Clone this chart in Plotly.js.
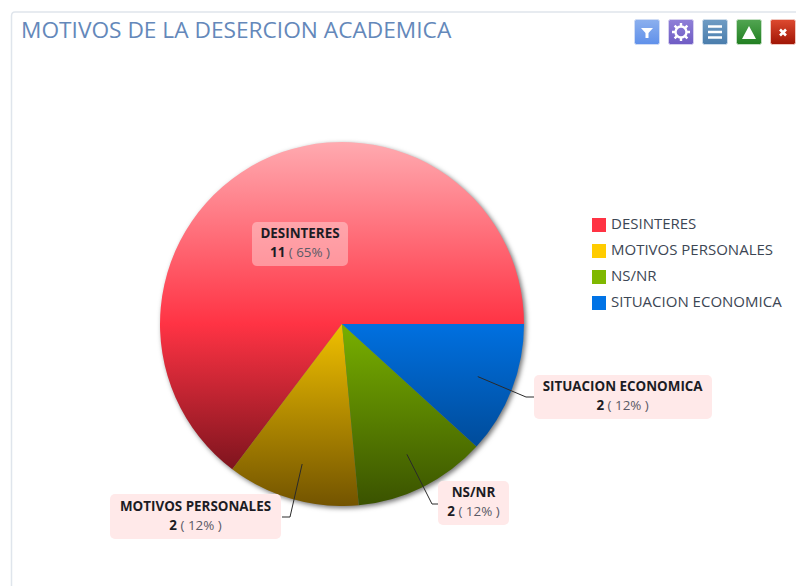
<!DOCTYPE html>
<html>
<head>
<meta charset="utf-8">
<script src="https://cdn.plot.ly/plotly-3.0.1.min.js"></script>
<style>
html,body{margin:0;padding:0;background:#fff;overflow:hidden}
#c{width:796px;height:586px}
.pielayer{filter:drop-shadow(2px 2px 2.5px rgba(0,0,0,.55))}
</style>
</head>
<body>
<div id="c"></div>
<script>
const categories = ["DESINTERES", "MOTIVOS PERSONALES", "NS/NR", "SITUACION ECONOMICA"];
const counts = [11, 2, 2, 2];
const colors = ["#ff3344", "#ffcc00", "#7fb800", "#0073e6"];
const gradients = [
  ["#ffaab0", "#ff3344", "#5e0c14"],
  ["#ffcc00", "#f0c000", "#735400"],
  ["#7fb800", "#78b000", "#3a5200"],
  ["#0073e6", "#0070e0", "#003a78"]
];
const titleText = "MOTIVOS DE LA DESERCION ACADEMICA";

const W = 796, H = 586;
const cx = 342, cy = 324, R = 182;
const px = x => x / W, py = y => 1 - y / H;

const total = counts.reduce((a, b) => a + b, 0);
const startAngle = 90;

// Label boxes [left, top, right, bottom]
const boxes = [[252, 222, 348, 266], [110, 494, 281, 539], [438, 481, 509, 525], [534, 375, 712, 419]];
const bgs = ["rgba(255,225,225,0.45)", "#ffe9e9", "#ffe9e9", "#ffe9e9"];
// Elbow endpoints of the leader lines (null = no leader)
const elbows = [null, [[290, 517], [282, 517]], [[432, 504], [438, 504]], [[526, 397], [534, 397]]];

const annotations = [], shapes = [];
let acc = 0;
categories.forEach((name, i) => {
  const frac = counts[i] / total;
  const mid = (startAngle - (acc + frac / 2) * 360) * Math.PI / 180;
  acc += frac;
  const b = boxes[i];
  annotations.push({
    xref: "paper", yref: "paper",
    x: px((b[0] + b[2]) / 2), y: py((b[1] + b[3]) / 2),
    xanchor: "center", yanchor: "middle",
    width: b[2] - b[0], height: b[3] - b[1],
    showarrow: false, align: "center", valign: "middle",
    bgcolor: bgs[i], borderpad: 0, borderwidth: 0,
    font: {family: "Open Sans, Noto Sans, sans-serif", size: 13.4, color: "#1c1c24"},
    text: "<b>" + name + "</b><br><b>" + counts[i] + "</b> <span style='color:#5a5a66'>( " + Math.round(frac * 100) + "% )</span>"
  });
  if (elbows[i]) {
    const sx = cx + 0.8 * R * Math.sin(mid), sy = cy - 0.8 * R * Math.cos(mid);
    const e = elbows[i];
    shapes.push({
      type: "path", xref: "paper", yref: "paper", layer: "above",
      path: "M" + px(sx) + "," + py(sy) + " L" + px(e[0][0]) + "," + py(e[0][1]) + " L" + px(e[1][0]) + "," + py(e[1][1]),
      line: {color: "#2a2a2a", width: 1}
    });
  }
});

// Panel frame: top and left rules
shapes.push({type: "path", xref: "paper", yref: "paper", layer: "below",
  path: "M" + px(11.5) + "," + py(586) + " L" + px(11.5) + "," + py(16) + " Q" + px(11.5) + "," + py(12) + " " + px(15) + "," + py(12) + " L" + px(796) + "," + py(12),
  line: {color: "#dfe5ec", width: 1.5}});

function icon(top, bottom, border, glyph) {
  const id = "g";
  const svg = "<svg xmlns='http://www.w3.org/2000/svg' width='26' height='26' viewBox='0 0 26 26'><defs><linearGradient id='" + id + "' x1='0' y1='0' x2='0' y2='1'><stop offset='0' stop-color='" + top + "'/><stop offset='1' stop-color='" + bottom + "'/></linearGradient></defs><rect x='0.5' y='0.5' width='25' height='25' rx='2' fill='url(#" + id + ")' stroke='" + border + "'/>" + glyph + "</svg>";
  return "data:image/svg+xml;charset=utf-8," + encodeURIComponent(svg);
}
const icons = [
  icon("#8cb0ee", "#5f90ea", "#cfdcf5", "<path d='M7 9H19L14.5 14V19H11.5V14Z' fill='#fff'/>"),
  icon("#8f80d8", "#6f5cc4", "#d6d0ef", "<circle cx='13' cy='13' r='5.5' fill='none' stroke='#fff' stroke-width='2.4'/><path d='M13 4V8M13 18V22M4 13H8M18 13H22M6.6 6.6L9.4 9.4M16.6 16.6L19.4 19.4M19.4 6.6L16.6 9.4M9.4 16.6L6.6 19.4' stroke='#fff' stroke-width='2.4'/>"),
  icon("#6f9cc4", "#4a7dac", "#cddcea", "<path d='M6 7.5H20M6 13H20M6 18.5H20' stroke='#fff' stroke-width='2.4'/>"),
  icon("#52a552", "#217f21", "#c5e0c5", "<path d='M13 7L20 20H6Z' fill='#fff'/>"),
  icon("#de4a30", "#a01505", "#f0c8c0", "<path d='M10 10.5L16 16.5M16 10.5L10 16.5' stroke='#fff' stroke-width='2.6'/>")
];
const iconLefts = [634, 668, 702, 736, 770];
const images = icons.map((s, i) => ({
  source: s, xref: "paper", yref: "paper",
  x: px(iconLefts[i]), y: py(19), sizex: 26 / W, sizey: 26 / H,
  xanchor: "left", yanchor: "top", layer: "above", sizing: "stretch"
}));

const data = [{
  type: "pie",
  labels: categories,
  values: counts,
  sort: false,
  direction: "counterclockwise",
  rotation: startAngle - counts[0] / total * 360 + 360,
  textinfo: "none",
  hoverinfo: "label+value+percent",
  marker: {colors: colors, line: {width: 0}},
  domain: {x: [px(cx - R), px(cx + R)], y: [py(cy + R), py(cy - R)]}
}];

const layout = {
  width: W, height: H,
  margin: {l: 0, r: 0, t: 0, b: 0},
  paper_bgcolor: "#fff",
  title: {
    text: titleText, xref: "paper", yref: "paper",
    x: px(21), xanchor: "left", y: py(30), yanchor: "middle",
    font: {family: "Open Sans, Noto Sans, sans-serif", size: 22.7, color: "#6488ba"}
  },
  showlegend: true,
  legend: {
    x: px(579), y: py(210), xanchor: "left", yanchor: "top",
    bgcolor: "rgba(0,0,0,0)",
    font: {family: "Open Sans, Noto Sans, sans-serif", size: 15, color: "#3c4654"}
  },
  annotations, shapes, images
};

Plotly.newPlot("c", data, layout, {displayModeBar: false, responsive: false}).then(gd => {
  const svg = gd.querySelector("svg.main-svg");
  const NS = "http://www.w3.org/2000/svg";
  const defs = svg.querySelector("defs") || svg.insertBefore(document.createElementNS(NS, "defs"), svg.firstChild);
  gradients.forEach((g, i) => {
    const lg = document.createElementNS(NS, "linearGradient");
    lg.setAttribute("id", "sliceGrad" + i);
    lg.setAttribute("gradientUnits", "userSpaceOnUse");
    lg.setAttribute("x1", 0); lg.setAttribute("x2", 0);
    lg.setAttribute("y1", cy - R); lg.setAttribute("y2", cy + R);
    g.forEach((c, k) => {
      const s = document.createElementNS(NS, "stop");
      s.setAttribute("offset", k / 2);
      s.setAttribute("stop-color", c);
      lg.appendChild(s);
    });
    defs.appendChild(lg);
  });
  gd.querySelectorAll(".pielayer .slice path.surface").forEach((p, i) => {
    p.style.fill = "url(#sliceGrad" + i + ")";
  });
  gd.querySelectorAll(".annotation rect.bg").forEach(r => {
    r.setAttribute("rx", 5); r.setAttribute("ry", 5);
  });
  gd.querySelectorAll(".annotation text").forEach(t => {
    const lines = t.querySelectorAll("tspan.line");
    if (lines[1]) lines[1].setAttribute("dy", "1.4em");
    t.style.transform = "translateY(-2px)";
  });
  const sb = gd.querySelector(".legend .scrollbox");
  if (sb) sb.removeAttribute("clip-path");
  gd.querySelectorAll(".legend .traces").forEach((t, i) => {
    t.setAttribute("transform", "translate(0," + (15 + i * 26) + ")");
  });
  gd.querySelectorAll(".legend .legendtext").forEach(t => {
    t.setAttribute("x", +t.getAttribute("x") - 8);
    t.setAttribute("y", +(t.getAttribute("y") || 0) - 2);
    t.querySelectorAll("tspan").forEach(s => { if (s.hasAttribute("x")) s.setAttribute("x", +s.getAttribute("x") - 8); });
  });
  gd.querySelectorAll(".legend .legendpoints path").forEach(p => {
    p.setAttribute("transform", (p.getAttribute("transform") || "") + " scale(1.17)");
  });
});
</script>
</body>
</html>
